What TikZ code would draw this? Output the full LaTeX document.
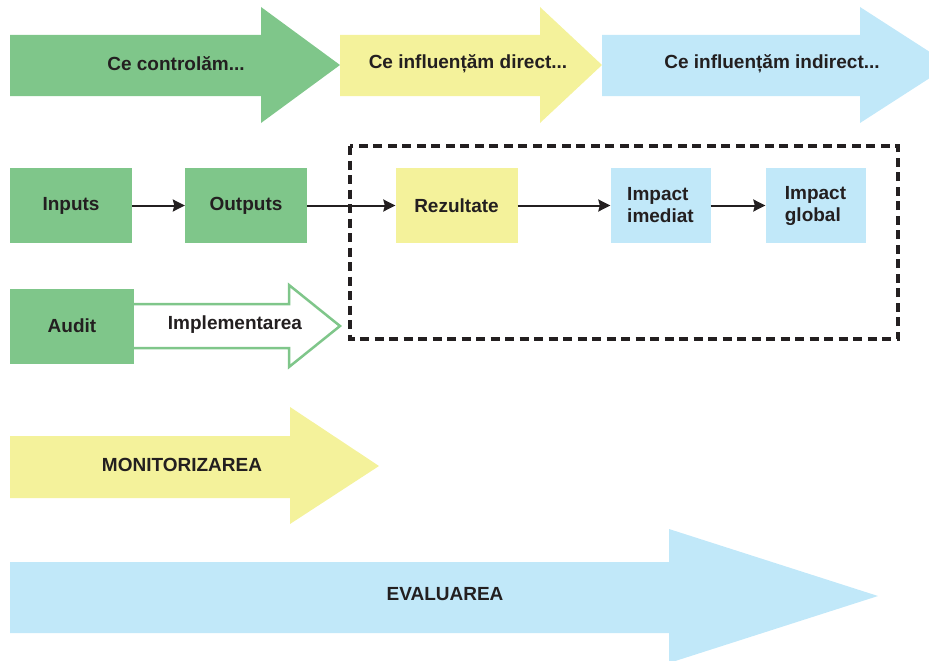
\documentclass[tikz,border=0pt]{standalone}
\usepackage{fontspec}
\setmainfont{Liberation Sans}
\usetikzlibrary{arrows.meta}
\definecolor{cgreen}{HTML}{7FC68A}
\definecolor{cyellow}{HTML}{F4F29B}
\definecolor{cblue}{HTML}{C1E8F9}
\definecolor{ink}{HTML}{231F20}
\tikzset{
  lbl/.style={font=\fontsize{19}{22}\selectfont\bfseries, text=ink, inner sep=0pt},
  stagebox/.style={lbl, minimum height=75pt, align=left},
  flow/.style={draw=ink, line width=2pt, -{Stealth[length=12pt,width=12pt,inset=1.5pt]}},
}
\begin{document}
\begin{tikzpicture}[x=1pt,y=-1pt]
\useasboundingbox (0,0) rectangle (929,661);
\clip (0,0) rectangle (929,661);

% top row: sphere of control / direct / indirect influence
\fill[cgreen]  (10,35) -- (261,35) -- (261,7) -- (340,65) -- (261,123) -- (261,96) -- (10,96) -- cycle;
\fill[cyellow] (340,35) -- (540,35) -- (540,7) -- (602,65) -- (540,123) -- (540,96) -- (340,96) -- cycle;
\fill[cblue]   (602,35) -- (860,35) -- (860,7) -- (950,65) -- (860,123) -- (860,96) -- (602,96) -- cycle;
\node[lbl] (ctl) at (176,64) {Ce controlăm...};
\node[lbl] (dir) at (468,64) {Ce influențăm direct...};
\node[lbl] (ind) at (772,64) {Ce influențăm indirect...};

% results chain
\draw[ink, line width=3.5pt, dash pattern=on 9pt off 5.5pt] (350,146) rectangle (898,339);
\node[stagebox, fill=cgreen,  minimum width=122pt, align=center] (in)  at (71,205.5)  {Inputs};
\node[stagebox, fill=cgreen,  minimum width=122pt, align=center] (out) at (246,205.5) {Outputs};
\node[stagebox, fill=cyellow, minimum width=122pt, align=center] (rez) at (456.5,205.5) {Rezultate};
\node[stagebox, fill=cblue,   minimum width=100pt] (imm) at (660.5,205.5) {Impact\\imediat};
\node[stagebox, fill=cblue,   minimum width=100pt] (glo) at (815.5,205.5) {Impact\\global};
\draw[flow] (in)  -- (out);
\draw[flow] (out) -- (rez);
\draw[flow] (rez) -- (imm);
\draw[flow] (imm) -- (glo);

% audit and implementation
\node[lbl, fill=cgreen, minimum width=124pt, minimum height=75pt] (aud) at (72,326) {Audit};
\draw[cgreen, line width=2.5pt, fill=white, line join=miter]
  (aud.east |- 0,304) -- (289,304) -- (289,285) -- (340,326) -- (289,367) -- (289,348) -- (aud.east |- 0,348);
\node[lbl] (impl) at (235,325) {Implementarea};

% monitoring and evaluation
\fill[cyellow] (10,436) -- (290,436) -- (290,407) -- (379,466) -- (290,524) -- (290,498) -- (10,498) -- cycle;
\node[lbl] (mon) at (182,465) {MONITORIZAREA};
\fill[cblue] (10,562) -- (669,562) -- (669,529) -- (878,596) -- (669,663) -- (669,633) -- (10,633) -- cycle;
\node[lbl] (eva) at (445,594) {EVALUAREA};
\end{tikzpicture}
\end{document}
